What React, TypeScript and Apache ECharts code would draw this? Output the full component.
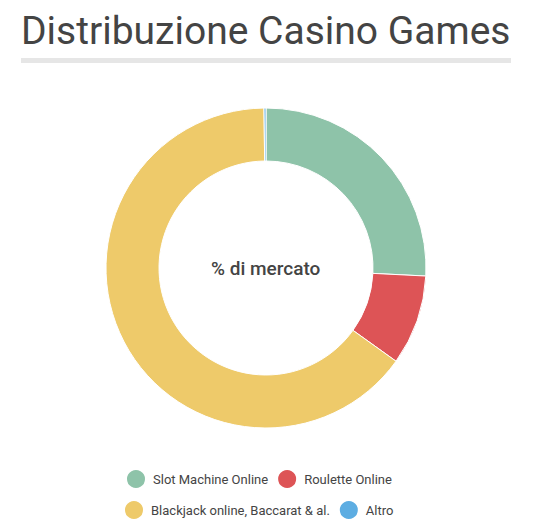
import { useEffect, useRef } from "react"
import * as echarts from "echarts"

const categories = ["Slot Machine Online", "Roulette Online", "Blackjack online, Baccarat & al.", "Altro"]
const shares = [25.8, 9.1, 64.9, 0.2]
const colors = ["#8ec3a9", "#dd5456", "#eeca6a", "#5dade2"]

export default function App() {
  const chartRef = useRef<HTMLDivElement>(null)

  useEffect(() => {
    if (!chartRef.current) return
    const chart = echarts.init(chartRef.current, null, { renderer: "svg" })

    const legendBase = {
      icon: "circle",
      itemWidth: 20,
      itemHeight: 20,
      itemGap: 8,
      textStyle: { fontFamily: "Roboto", fontSize: 13, color: "#444", padding: [0, 0, 0, 2] },
    }

    const option = {
      animation: false,
      color: colors,
      title: {
        text: "Distribuzione Casino Games",
        left: 16,
        top: 6,
        textStyle: { fontFamily: "Roboto", fontWeight: 400, fontSize: 39, color: "#444" },
      },
      graphic: [
        {
          type: "rect",
          shape: { x: 21, y: 58, width: 490, height: 5 },
          style: { fill: "#e6e6e6" },
        },
        {
          type: "text",
          left: 211,
          top: 259,
          style: { text: "% di mercato", fontFamily: "Roboto", fontSize: 19, fontWeight: 500, fill: "#444" },
        },
      ],
      legend: [
        { ...legendBase, data: categories.slice(0, 2), top: 463, left: 120 },
        { ...legendBase, data: categories.slice(2), top: 494, left: 118 },
      ],
      series: [
        {
          type: "pie",
          center: [266, 268],
          radius: [107, 160],
          startAngle: 90,
          clockwise: true,
          label: { show: false },
          labelLine: { show: false },
          emphasis: { disabled: true },
          itemStyle: { borderColor: "#fff", borderWidth: 1 },
          data: categories.map((name, i) => ({ name, value: shares[i] })),
        },
      ],
    }

    chart.setOption(option)
    return () => chart.dispose()
  }, [])

  return (
    <div
      ref={chartRef}
      style={{ position: "fixed", left: 0, top: 0, width: 537, height: 530, background: "#fff" }}
    />
  )
}
